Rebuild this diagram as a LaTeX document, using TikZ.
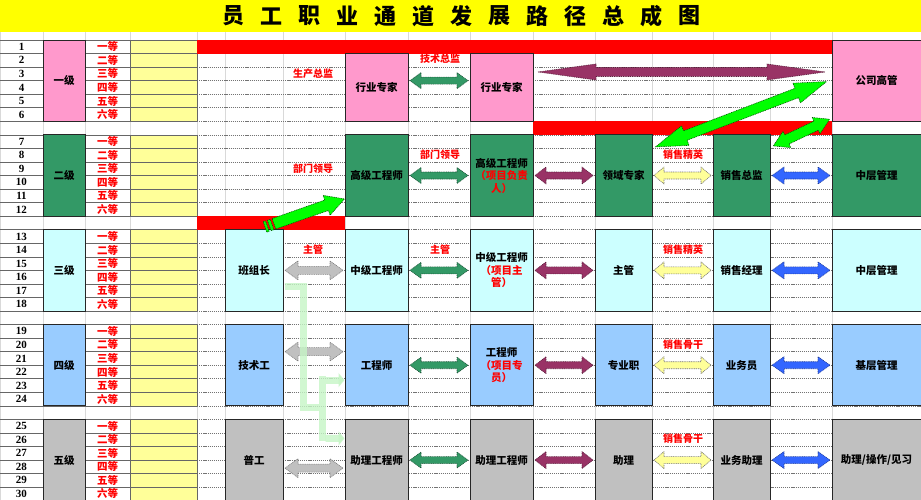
\documentclass[tikz,border=0pt]{standalone}
\usepackage{fontspec}
\setmainfont{Noto Sans CJK SC}
\newfontfamily\numfont{Liberation Serif}
\usetikzlibrary{calc,arrows.meta}

\definecolor{ttlyellow}{HTML}{FFFF00}
\definecolor{colyellow}{HTML}{FFFF99}
\definecolor{lvlpink}{HTML}{FF99CC}
\definecolor{lvlgreen}{HTML}{339966}
\definecolor{lvlcyan}{HTML}{CCFFFF}
\definecolor{lvlblue}{HTML}{99CCFF}
\definecolor{lvlgray}{HTML}{C0C0C0}
\definecolor{arrpurple}{HTML}{993366}
\definecolor{arrblue}{HTML}{3366FF}
\definecolor{arrlime}{HTML}{00FF00}
\definecolor{pathgreen}{HTML}{C6F5C6}
\definecolor{barred}{HTML}{FF0000}

\newcommand\dblarr[6][]{%
  \path (#2) coordinate (da0) (#3) coordinate (db0);
  \path ($(da0)!1.5pt!(db0)$) coordinate (da) ($(db0)!1.5pt!(da0)$) coordinate (db);
  \path ($(da)!#4!(db)$) coordinate (ha) ($(db)!#4!(da)$) coordinate (hb);
  \draw[#1] (da) -- ($(ha)!#5!90:(db)$) -- ($(ha)!#6!90:(db)$)
    -- ($(hb)!#6!-90:(da)$) -- ($(hb)!#5!-90:(da)$) -- (db)
    -- ($(hb)!#5!90:(da)$) -- ($(hb)!#6!90:(da)$)
    -- ($(ha)!#6!-90:(db)$) -- ($(ha)!#5!-90:(db)$) -- cycle;}

\tikzset{
  lgrid/.style={draw=black!60, line width=0.6pt},
  rgrid/.style={draw=black!55, line width=0.6pt, dash pattern=on 1.2pt off 0.9pt},
  vgrid/.style={draw=black!15, line width=0.5pt},
  post/.style={draw=black!85, line width=1pt, minimum height=81.3pt, align=center,
    inner sep=1pt, font=\bfseries\fontsize{10.5}{12.5}\selectfont},
  lvl/.style={post, minimum width=42pt},
  cA/.style={post, minimum width=58pt},
  cB/.style={post, minimum width=63pt},
  cC/.style={post, minimum width=63pt},
  cD/.style={post, minimum width=57pt},
  cE/.style={post, minimum width=57pt},
  cF/.style={post, minimum width=89pt},
  num/.style={font=\numfont\bfseries\fontsize{11}{11}\selectfont},
  grade/.style={text=barred, font=\bfseries\fontsize{10.5}{10.5}\selectfont},
  tag/.style={text=barred, font=\bfseries\fontsize{10}{10}\selectfont},
  ttl/.style={font=\bfseries\fontsize{22}{22}\selectfont},
  dotline/.style={line width=0.6pt, dash pattern=on 1pt off 0.8pt, line join=round},
  arrgrn/.style={dotline, fill=lvlgreen, draw=lvlgreen!55!black},
  arrpur/.style={dotline, fill=arrpurple, draw=arrpurple!60!black},
  arrylw/.style={dotline, fill=colyellow, draw=black!55},
  arrblu/.style={dotline, fill=arrblue, draw=arrblue!60!black},
  arrgry/.style={dotline, fill=lvlgray, draw=black!50},
  arrlim/.style={dotline, fill=arrlime, draw=green!35!black},
  lgpath/.style={draw=pathgreen, line width=7pt, draw opacity=0.8}
}

\begin{document}
\begin{tikzpicture}[x=1pt,y=-13.55pt]
\useasboundingbox (0,-2.952) rectangle (921,33.948);
\fill[white] (0,-2.952) rectangle (921,33.948);
\fill[ttlyellow] (0,-2.952) rectangle (921,-0.59);
\foreach \c [count=\i from 0] in {员,工,职,业,通,道,发,展,路,径,总,成,图}
  \node[ttl] (h\i) at (233+38*\i,-1.77) {\c};

\foreach \x in {0,43,85,130,197,225,283,345,408,470,533,595,652,713,770,832}
  \draw[vgrid] (\x,-0.59) -- (\x,34);
\foreach \k in {0,...,34}
  \draw[rgrid] (197,\k) -- (921,\k);
\foreach \b in {0,...,4} {
  \fill[colyellow] (130,7*\b) rectangle (197,7*\b+6);
  \foreach \r in {0,...,6}
    \draw[lgrid] (0,7*\b+\r) -- (197,7*\b+\r);
  \foreach \x in {130,197}
    \draw[lgrid] (\x,7*\b) -- (\x,7*\b+6);
  \foreach \g [count=\i from 0] in {一等,二等,三等,四等,五等,六等} {
    \pgfmathtruncatemacro\n{6*\b+\i+1}
    \node[num] (n\n) at (21.5,7*\b+\i+0.5) {\n};
    \node[grade] (g\n) at (107.5,7*\b+\i+0.5) {\g};
  }
}
\foreach \lv/\c [count=\b from 0] in {一级/lvlpink,二级/lvlgreen,三级/lvlcyan,四级/lvlblue,五级/lvlgray}
  \node[lvl,fill=\c] (lv\b) at (64,7*\b+3) {\lv};

\fill[barred] (197,0) rectangle (832,1);
\fill[barred] (533,6) rectangle (832,7);
\fill[barred] (197,13) rectangle (345,14);

\node[cB,fill=lvlpink,minimum height=67.75pt] (hy1) at (376.5,3.5) {行业专家};
\node[cC,fill=lvlpink,minimum height=67.75pt] (hy2) at (501.5,3.5) {行业专家};
\node[cF,fill=lvlpink] (gs) at (876.5,3) {公司高管};

\node[cB,fill=lvlgreen] (gj1) at (376.5,10) {高级工程师};
\node[cC,fill=lvlgreen] (gj2) at (501.5,10) {高级工程师\\{\color{barred}（项目负责}\\{\color{barred}人）}};
\node[cD,fill=lvlgreen] (ly) at (623.5,10) {领域专家};
\node[cE,fill=lvlgreen] (xz) at (741.5,10) {销售总监};
\node[cF,fill=lvlgreen] (zc1) at (876.5,10) {中层管理};

\node[cA,fill=lvlcyan] (bz) at (254,17) {班组长};
\node[cB,fill=lvlcyan] (zj1) at (376.5,17) {中级工程师};
\node[cC,fill=lvlcyan] (zj2) at (501.5,17) {中级工程师\\{\color{barred}（项目主}\\{\color{barred}管）}};
\node[cD,fill=lvlcyan] (zg) at (623.5,17) {主管};
\node[cE,fill=lvlcyan] (xj) at (741.5,17) {销售经理};
\node[cF,fill=lvlcyan] (zc2) at (876.5,17) {中层管理};

\node[cA,fill=lvlblue] (js) at (254,24) {技术工};
\node[cB,fill=lvlblue] (gc1) at (376.5,24) {工程师};
\node[cC,fill=lvlblue] (gc2) at (501.5,24) {工程师\\{\color{barred}（项目专}\\{\color{barred}员）}};
\node[cD,fill=lvlblue] (zy) at (623.5,24) {专业职};
\node[cE,fill=lvlblue] (yw) at (741.5,24) {业务员};
\node[cF,fill=lvlblue] (jc) at (876.5,24) {基层管理};

\node[cA,fill=lvlgray] (pg) at (254,31) {普工};
\node[cB,fill=lvlgray] (zl1) at (376.5,31) {助理工程师};
\node[cC,fill=lvlgray] (zl2) at (501.5,31) {助理工程师};
\node[cD,fill=lvlgray] (zl3) at (623.5,31) {助理};
\node[cE,fill=lvlgray] (yz) at (741.5,31) {业务助理};
\node[cF,fill=lvlgray] (zx) at (876.5,31) {助理/操作/见习};

\dblarr[arrgrn]{$(hy1.east)+(0,-0.5)$}{$(hy2.west)+(0,-0.5)$}{11pt}{8pt}{3.5pt}
\foreach \a/\b in {gj1/gj2,zj1/zj2,gc1/gc2,zl1/zl2}
  {\dblarr[arrgrn]{\a.east}{\b.west}{11pt}{8pt}{3.5pt}}
\foreach \a/\b in {gj2/ly,zj2/zg,gc2/zy,zl2/zl3}
  {\dblarr[arrpur]{\a.east}{\b.west}{11pt}{8.5pt}{3.5pt}}
\foreach \a/\b in {ly/xz,zg/xj,zy/yw,zl3/yz}
  {\dblarr[arrylw]{\a.east}{\b.west}{10pt}{8.5pt}{3.5pt}}
\foreach \a/\b in {xz/zc1,xj/zc2,yw/jc,yz/zx}
  {\dblarr[arrblu]{\a.east}{\b.west}{12pt}{8.5pt}{3.5pt}}
\foreach \a/\b/\s in {bz/zj1/0,js/gc1/-1,pg/zl1/0.6}
  {\dblarr[arrgry]{$(\a.east)+(0,\s)$}{$(\b.west)+(0,\s)$}{13pt}{9.5pt}{4pt}}
\dblarr[arrpur]{$(hy2.east)+(3,-1.14)$}{$(gs.west)+(-5,-0.64)$}{58pt}{8pt}{4.5pt}

\node[tag] (t1) at (313,2.5) {生产总监};
\node[tag] (t2) at (440,1.4) {技术总监};
\node[tag] (t3) at (313,9.52) {部门领导};
\node[tag] (t4) at (440,8.49) {部门领导};
\node[tag] (t5) at (683,8.49) {销售精英};
\node[tag] (t6) at (313,15.5) {主管};
\node[tag] (t7) at (440,15.5) {主管};
\node[tag] (t8) at (683,15.5) {销售精英};
\node[tag] (t9) at (683,22.5) {销售骨干};
\node[tag] (t10) at (683,29.45) {销售骨干};

\dblarr[arrlim]{$(ly.north east)+(1.5,0.97)$}{$(gs.west)+(-3.5,0.03)$}{32pt}{10.5pt}{5pt}
\dblarr[arrlim]{$(xz.north east)+(1.5,0.9)$}{$(gs.south west)+(-0.5,-0.24)$}{15pt}{9pt}{5pt}

\coordinate (stail) at (265,13.8);
\coordinate (stip) at ($(gj1.west)+(0,1.73)$);
\path ($(stail)!9.5pt!(stip)$) coordinate (sb) ($(stip)!19pt!(stail)$) coordinate (sh);
\draw[arrlim] ($(sb)!5.5pt!90:(stip)$) -- ($(sh)!5.5pt!-90:(stail)$) -- ($(sh)!10.5pt!-90:(stail)$)
  -- (stip) -- ($(sh)!10.5pt!90:(stail)$) -- ($(sh)!5.5pt!90:(stail)$) -- ($(sb)!5.5pt!-90:(stip)$) -- cycle;
\foreach \ta/\tb in {0pt/2.5pt,4.5pt/7.5pt} {
  \path ($(stail)!\ta!(stip)$) coordinate (s1) ($(stail)!\tb!(stip)$) coordinate (s2);
  \draw[arrlim] ($(s1)!5.5pt!90:(stip)$) -- ($(s2)!5.5pt!90:(stip)$) -- ($(s2)!5.5pt!-90:(stip)$) -- ($(s1)!5.5pt!-90:(stip)$) -- cycle;
}

\draw[lgpath] ($(bz.east)+(1,1.2)$) -| (303,27.1) -- (322,27.1) (322,24.8) -- (322,29.6);
\draw[lgpath,-{Triangle[length=6pt,width=14pt]}] (325.5,25.1) -- ($(gc1.west)+(0,1.1)$);
\draw[lgpath,-{Triangle[length=6pt,width=14pt]}] (325.5,29.4) -- ($(zl1.west)+(0,-1.6)$);
\end{tikzpicture}
\end{document}
